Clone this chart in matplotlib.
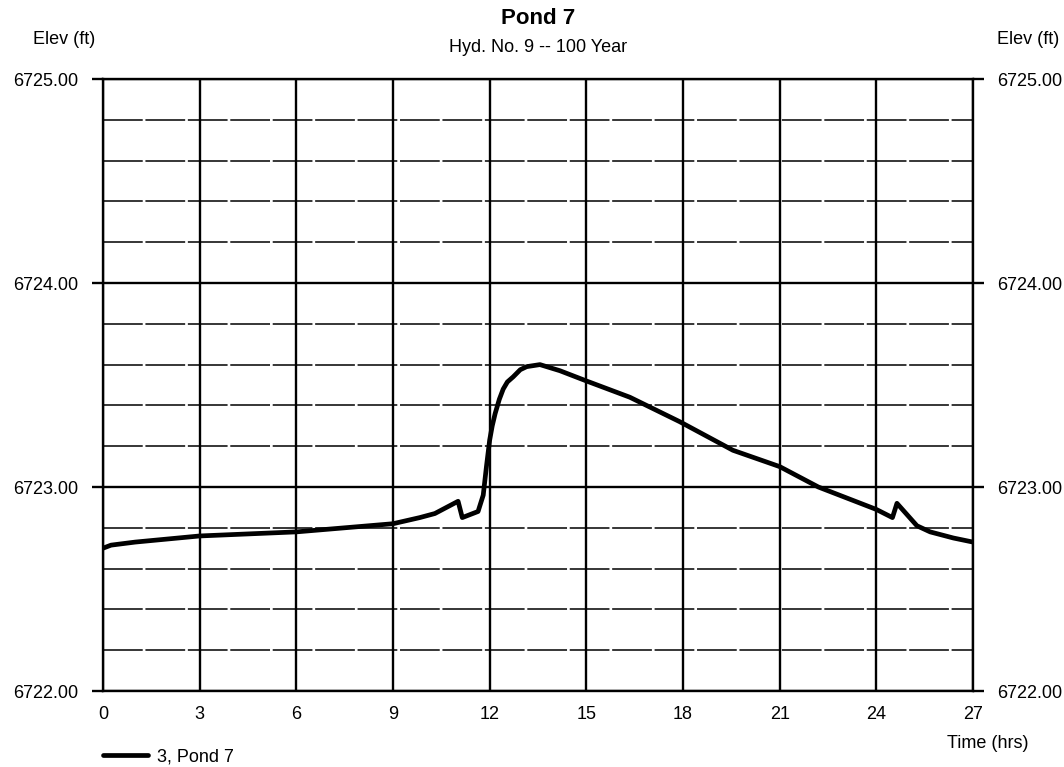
import matplotlib
matplotlib.use("Agg")
import matplotlib.pyplot as plt
import numpy as np

plt.rcParams['font.family'] = ['Liberation Sans', 'DejaVu Sans']

# ---- data ----
time_hrs = [0, 0.25, 1, 3, 6, 9, 9.83, 10.3, 11.02, 11.15, 11.64, 11.8, 11.9, 12.0,
            12.08, 12.17, 12.3, 12.42, 12.55, 12.73, 12.95, 13.15, 13.56, 14.18,
            15.0, 16.35, 17.9, 19.55, 21.0, 22.2, 24.0, 24.5, 24.64, 25.26, 25.67,
            26.39, 27]
elev_ft = [6722.70, 6722.715, 6722.73, 6722.76, 6722.78, 6722.82, 6722.85, 6722.87,
           6722.93, 6722.85, 6722.88, 6722.96, 6723.10, 6723.23, 6723.30, 6723.36,
           6723.43, 6723.48, 6723.515, 6723.54, 6723.575, 6723.59, 6723.60, 6723.57,
           6723.52, 6723.44, 6723.32, 6723.18, 6723.10, 6723.00, 6722.89, 6722.85,
           6722.92, 6722.81, 6722.78, 6722.75, 6722.73]
x_ticks = [0, 3, 6, 9, 12, 15, 18, 21, 24, 27]
y_major = [6722.0, 6723.0, 6724.0, 6725.0]
y_minor = [6722.2, 6722.4, 6722.6, 6722.8, 6723.2, 6723.4, 6723.6, 6723.8,
           6724.2, 6724.4, 6724.6, 6724.8]
y_labels = ["6722.00", "6723.00", "6724.00", "6725.00"]
series_label = "3, Pond 7"
title = "Pond 7"
subtitle = "Hyd. No. 9 -- 100 Year"

W, H = 1064, 767
fig = plt.figure(figsize=(W / 100, H / 100), dpi=100)
L, R, T, B = 103, 973, 79, 691
ax = fig.add_axes([L / W, 1 - B / H, (R - L) / W, (B - T) / H])

ax.set_xlim(0, 27)
ax.set_ylim(6722, 6725)

# grid
for yv in y_minor:
    ax.axhline(yv, color='0.15', lw=1.3, ls=(0, (22, 1.5)), zorder=1)
for yv in y_major:
    ax.axhline(yv, color='black', lw=1.7, zorder=1)
for xv in x_ticks:
    ax.axvline(xv, color='black', lw=1.7, zorder=1)

ax.plot(time_hrs, elev_ft, color='black', lw=3.4, solid_joinstyle='round',
        solid_capstyle='round', label=series_label, zorder=3)

for s in ax.spines.values():
    s.set_linewidth(1.7)
    s.set_color('black')

ax.set_xticks(x_ticks)
ax.set_xticklabels([str(v) for v in x_ticks])
ax.set_yticks(y_major)
ax.set_yticklabels(y_labels)
ax.tick_params(axis='x', length=0, pad=11, labelsize=13)
ax.tick_params(axis='y', which='major', direction='out', length=8, width=1.7,
               pad=9.5, labelsize=13, left=True, right=True,
               labelleft=True, labelright=True)

fig.text(538 / W, 1 - 18 / H, title, ha='center', va='center',
         fontsize=16, fontweight='bold')
fig.text(538 / W, 1 - 48 / H, subtitle, ha='center', va='center', fontsize=13)
fig.text(64 / W, 1 - 40 / H, "Elev (ft)", ha='center', va='center', fontsize=13)
fig.text(1028 / W, 1 - 40 / H, "Elev (ft)", ha='center', va='center', fontsize=13)
fig.text(988 / W, 1 - 743 / H, "Time (hrs)", ha='center', va='center', fontsize=13)

fig.legend(loc='center left', bbox_to_anchor=(103 / W, 1 - 757 / H),
           frameon=False, fontsize=13, handlelength=2.5, handletextpad=0.5,
           borderpad=0, borderaxespad=0)

fig.savefig("out.png", dpi=100, facecolor='white')
